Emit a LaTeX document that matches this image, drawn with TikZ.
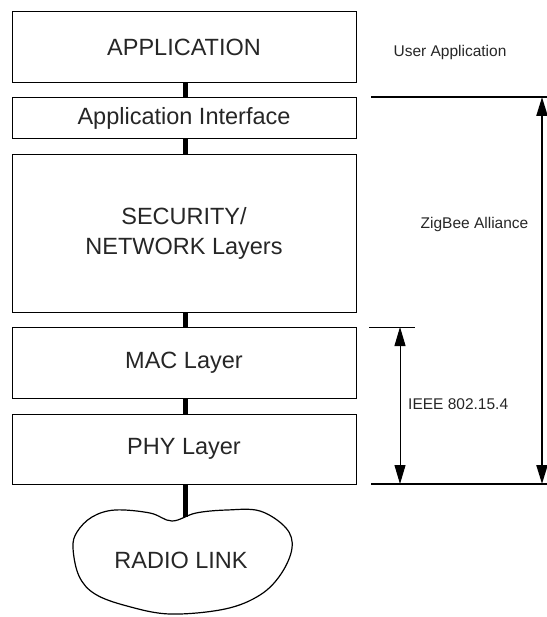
\documentclass[tikz,border=0pt]{standalone}
\usepackage{fontspec}
\setmainfont{Liberation Sans}
\usetikzlibrary{arrows.meta}
\tikzset{
  layerbox/.style={draw, line width=1pt, minimum width=344pt, inner sep=0pt,
    font=\fontsize{23.5}{30}\selectfont, align=center, text=black!85},
  smalltext/.style={inner sep=0pt, font=\fontsize{15.5}{18}\selectfont, text=black!85},
  link/.style={line width=5pt},
  bigdim/.style={line width=2.2pt},
  thindim/.style={line width=1pt},
  bothtip/.style={{Triangle[length=19pt,width=11pt]}-{Triangle[length=19pt,width=11pt]}},
}
\begin{document}
\begin{tikzpicture}[x=1pt,y=-1pt]
\useasboundingbox (0,0) rectangle (546,617);
% layer boxes
\node[layerbox, minimum height=71pt] (app) at (184,47.5) {APPLICATION};
\node[layerbox, minimum height=41pt] (api) at (184,118.5) {Application Interface};
\node[layerbox, minimum height=157pt] (sec) at (184,233.5) {SECURITY/\\NETWORK Layers};
\node[layerbox, minimum height=71pt] (mac) at (184,362.5) {MAC Layer};
\node[layerbox, minimum height=70pt] (phy) at (184,449) {PHY Layer};
% radio link cloud
\draw[line width=1.2pt] plot[smooth cycle, tension=0.6] coordinates {
  (172,521) (150,513) (115,510) (92,517) (77,532) (73,548) (79,576) (95,594)
  (127,606) (170,614) (225,609) (260,595) (281,574) (292,548) (286,528)
  (260,511) (227,510) (196,513)};
\coordinate (cloudtop) at (185,517);
\node[inner sep=0pt, font=\fontsize{23.5}{28}\selectfont, text=black!85] (radio) at (181,560) {RADIO LINK};
% connectors
\draw[link] (app.south -| 185,0) -- (api.north -| 185,0);
\draw[link] (api.south -| 185,0) -- (sec.north -| 185,0);
\draw[link] (sec.south -| 185,0) -- (mac.north -| 185,0);
\draw[link] (mac.south -| 185,0) -- (phy.north -| 185,0);
\draw[link] (phy.south -| 185,0) -- (cloudtop);
% ZigBee Alliance dimension
\coordinate (zl) at (371,97);
\coordinate (zr) at (547,97);
\coordinate (bl) at (371,484);
\coordinate (br) at (547,484);
\coordinate (zt) at (542,97);
\coordinate (zb) at (542,484);
\draw[bigdim] (zl) -- (zr);
\draw[bigdim] (bl) -- (br);
\draw[bigdim, bothtip] (zt) -- (zb);
% IEEE dimension
\coordinate (il) at (369,327);
\coordinate (ir) at (415,327);
\coordinate (it) at (400,327);
\coordinate (ib) at (400,484);
\draw[thindim] (il) -- (ir);
\draw[thindim, bothtip] (it) -- (ib);
% labels
\node[smalltext] (user) at (450,52) {User Application};
\node[smalltext] (zig) at (474.5,224) {ZigBee Alliance};
\node[smalltext, anchor=west] (ieee) at (408,404) {IEEE 802.15.4};
\end{tikzpicture}
\end{document}
